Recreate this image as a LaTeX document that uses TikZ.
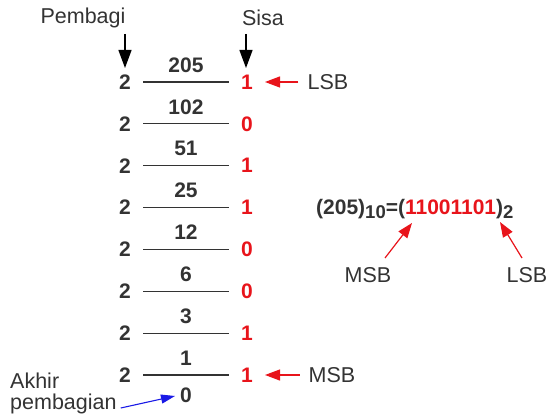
\documentclass[tikz,border=0pt]{standalone}
\usepackage{fontspec}
\setmainfont{Liberation Sans}
\usetikzlibrary{arrows.meta}
\definecolor{txt}{HTML}{333333}
\definecolor{rd}{HTML}{E8141B}
\definecolor{bl}{HTML}{1A1AE6}
\begin{document}
\begin{tikzpicture}[x=1pt,y=-1pt,
  lbl/.style={font=\fontsize{21.5}{25}\selectfont, text=txt, inner sep=0pt},
  num/.style={font=\fontsize{21}{25}\selectfont\bfseries, text=txt, inner sep=0pt},
  rem/.style={font=\fontsize{21}{25}\selectfont\bfseries, text=rd, inner sep=0pt},
  divline/.style={draw=txt, line width=1.1pt},
  blk/.style={-{Triangle[length=18pt,width=13pt]}, line width=1.3pt, black},
  red/.style={-{Triangle[length=15pt,width=11pt]}, line width=1.2pt, rd},
  blu/.style={-{Triangle[length=14pt,width=9pt]}, line width=1.1pt, bl}]
\useasboundingbox (0,0) rectangle (549,414);
\node[lbl] (pembagi) at (83,18) {Pembagi};
\node[lbl] (sisa) at (263,18) {Sisa};
\coordinate (pa) at (125,34);
\coordinate (sa) at (246,34);
\def\rows{{205,102,51,25,12,6,3,1}}
\def\rems{{1,0,1,1,0,0,1,1}}
\foreach \i in {0,...,7} {
  \pgfmathsetmacro{\yy}{82+41.86*\i}
  \pgfmathtruncatemacro{\dv}{\rows[\i]}
  \pgfmathtruncatemacro{\rm}{\rems[\i]}
  \node[num] (d\i) at (125,\yy) {2};
  \coordinate (la\i) at (143,\yy);
  \coordinate (lb\i) at (229,\yy);
  \draw[divline] (la\i) -- (lb\i);
  \node[num] (q\i) at (186,\yy-17) {\dv};
  \node[rem] (r\i) at (247,\yy) {\rm};
}
\node[num] (q8) at (186,395) {0};
\coordinate (pt) at (125,68);
\coordinate (st) at (246,68);
\draw[blk] (pa) -- (pt);
\draw[blk] (sa) -- (st);
\node[lbl] (lsb1) at (328,82) {LSB};
\node[lbl] (msb1) at (332,375) {MSB};
\coordinate (lsbt) at (265,82);
\coordinate (msbt) at (265,375);
\draw[red] ([xshift=-9pt]lsb1.west) -- (lsbt);
\draw[red] ([xshift=-9pt]msb1.west) -- (msbt);
\node[lbl, anchor=west] (akhir) at (10,381) {Akhir};
\node[lbl, anchor=west] (pemb) at (10,404) {pembagian};
\coordinate (akt) at (175,396);
\draw[blu] ([xshift=4pt,yshift=-4pt]pemb.east) -- (akt);
\node[num, anchor=west] (eq) at (316,209) {(205)\raisebox{-4pt}{\fontsize{18.5}{18}\selectfont 10}=(\textcolor{rd}{11001101})\raisebox{-4pt}{\fontsize{18.5}{18}\selectfont 2}};
\node[lbl] (msb2) at (368,275) {MSB};
\node[lbl] (lsb2) at (527,275) {LSB};
\coordinate (mt) at (412,223);
\coordinate (lt) at (500,222);
\coordinate (ms) at (385,258);
\coordinate (ls) at (522,258);
\draw[red] (ms) -- (mt);
\draw[red] (ls) -- (lt);
\end{tikzpicture}
\end{document}
